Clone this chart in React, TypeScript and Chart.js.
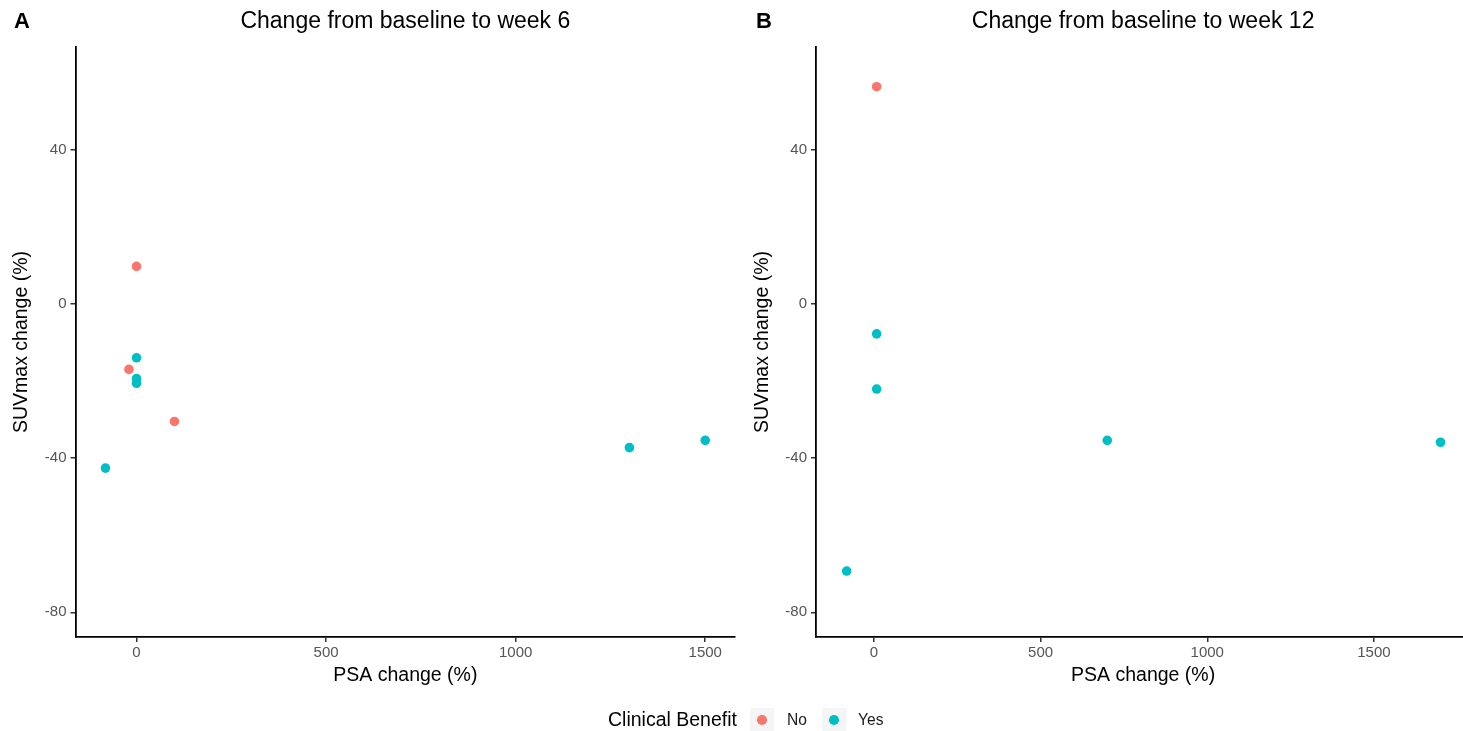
import React, { useEffect, useRef } from "react";
import { Chart, registerables } from "chart.js";

Chart.register(...registerables);

const FONT = '"Liberation Sans", Arial, Helvetica, sans-serif';

// ---------- data ----------
const groups = ["No", "Yes"];
const groupColors = ["#F8766D", "#00BFC4"];

const week6NoPSA = [0, -20, 100];
const week6NoSUV = [9.7, -17.0, -30.5];
const week6YesPSA = [0, 0, 0, -82, 1300, 1500];
const week6YesSUV = [-14.0, -19.4, -20.6, -42.6, -37.3, -35.4];

const week12NoPSA = [8];
const week12NoSUV = [56.3];
const week12YesPSA = [8, 8, 700, 1700, -82];
const week12YesSUV = [-7.8, -22.1, -35.4, -35.9, -69.3];

const xTickValues = [0, 500, 1000, 1500];
const yTickValues = [-80, -40, 0, 40];
const yRange = [-86.4, 66.6];
const week6XRange = [-161, 1579];
const week12XRange = [-174, 1789];

const panelTitles = ["Change from baseline to week 6", "Change from baseline to week 12"];
const panelTags = ["A", "B"];
const xAxisTitle = "PSA change (%)";
const yAxisTitle = "SUVmax change (%)";
const legendTitle = "Clinical Benefit";

// ---------- plugin drawing panel title and tag ----------
const panelTextPlugin = {
  id: "panelText",
  afterDraw(chart: any, _args: any, opts: any) {
    const { ctx, chartArea } = chart;
    ctx.save();
    ctx.fillStyle = "#000";
    ctx.textBaseline = "middle";
    ctx.textAlign = "center";
    ctx.font = `23px ${FONT}`;
    ctx.fillText(opts.title, (chartArea.left + chartArea.right) / 2, opts.titleY);
    ctx.font = `bold 22px ${FONT}`;
    ctx.fillText(opts.tag, opts.tagX, opts.titleY);
    ctx.restore();
  },
};

type PanelProps = {
  left: number;
  width: number;
  noPSA: number[];
  noSUV: number[];
  yesPSA: number[];
  yesSUV: number[];
  xRange: number[];
  title: string;
  tag: string;
  tagX: number;
  padLeft: number;
  padRight: number;
  yWidth: number;
};

function Panel(p: PanelProps) {
  const ref = useRef<HTMLCanvasElement>(null);
  useEffect(() => {
    if (!ref.current) return;
    const toPts = (xs: number[], ys: number[]) => xs.map((x, i) => ({ x, y: ys[i] }));
    const chart = new Chart(ref.current, {
      type: "scatter",
      data: {
        datasets: [
          {
            label: groups[0],
            data: toPts(p.noPSA, p.noSUV),
            backgroundColor: groupColors[0],
            borderColor: groupColors[0],
            borderWidth: 0,
            pointRadius: 4.8,
          },
          {
            label: groups[1],
            data: toPts(p.yesPSA, p.yesSUV),
            backgroundColor: groupColors[1],
            borderColor: groupColors[1],
            borderWidth: 0,
            pointRadius: 4.8,
          },
        ],
      },
      options: {
        responsive: false,
        animation: false,
        events: [],
        layout: { padding: { left: p.padLeft, right: p.padRight, top: 47, bottom: 44 } },
        plugins: {
          legend: { display: false },
          tooltip: { enabled: false },
          title: { display: false },
          panelText: { title: p.title, tag: p.tag, tagX: p.tagX, titleY: 22 },
        } as any,
        scales: {
          x: {
            type: "linear",
            min: p.xRange[0],
            max: p.xRange[1],
            afterBuildTicks: (s: any) => {
              s.ticks = xTickValues.map((v) => ({ value: v }));
            },
            afterFit: (s: any) => {
              s.height = 50;
            },
            ticks: {
              color: "#555555",
              font: { family: FONT, size: 15 },
              padding: 2,
              maxRotation: 0,
              autoSkip: false,
              callback: (v: any) => String(v),
            },
            grid: { drawOnChartArea: false, drawTicks: true, tickLength: 5, color: "#333", lineWidth: 1.5 },
            border: { display: true, color: "#000", width: 1.8 },
            title: {
              display: true,
              text: xAxisTitle,
              color: "#000",
              font: { family: FONT, size: 19.5 },
              padding: 0,
            },
          },
          y: {
            type: "linear",
            min: yRange[0],
            max: yRange[1],
            afterBuildTicks: (s: any) => {
              s.ticks = yTickValues.map((v) => ({ value: v }));
            },
            afterFit: (s: any) => {
              s.width = p.yWidth;
            },
            ticks: {
              color: "#555555",
              font: { family: FONT, size: 15 },
              padding: 4,
              autoSkip: false,
              callback: (v: any) => String(v),
            },
            grid: { drawOnChartArea: false, drawTicks: true, tickLength: 5, color: "#333", lineWidth: 1.5 },
            border: { display: true, color: "#000", width: 1.8 },
            title: {
              display: true,
              text: yAxisTitle,
              color: "#000",
              font: { family: FONT, size: 19.5 },
              padding: 0,
            },
          },
        },
      },
      plugins: [panelTextPlugin],
    } as any);
    return () => chart.destroy();
  }, []);
  return (
    <canvas
      ref={ref}
      width={p.width}
      height={731}
      style={{ position: "absolute", left: p.left, top: 0, width: p.width, height: 731 }}
    />
  );
}

function LegendKey({ cx, color }: { cx: number; color: string }) {
  return (
    <div
      style={{
        position: "absolute",
        left: cx - 12,
        top: 720 - 12,
        width: 24,
        height: 24,
        background: "#F5F5F5",
      }}
    >
      <div
        style={{
          position: "absolute",
          left: 12 - 4.8,
          top: 12 - 4.8,
          width: 9.6,
          height: 9.6,
          borderRadius: "50%",
          background: color,
        }}
      />
    </div>
  );
}

export default function App() {
  const textStyle = (left: number, size: number, color: string): React.CSSProperties => ({
    position: "absolute",
    left,
    top: 720,
    transform: "translateY(-50%)",
    fontFamily: FONT,
    fontSize: size,
    color,
    whiteSpace: "nowrap",
    lineHeight: 1,
  });
  return (
    <div
      style={{
        position: "fixed",
        left: 0,
        top: 0,
        width: 1463,
        height: 731,
        overflow: "hidden",
        background: "#fff",
      }}
    >
      <Panel
        left={0}
        width={740}
        noPSA={week6NoPSA}
        noSUV={week6NoSUV}
        yesPSA={week6YesPSA}
        yesSUV={week6YesSUV}
        xRange={week6XRange}
        title={panelTitles[0]}
        tag={panelTags[0]}
        tagX={22}
        padLeft={10}
        padRight={3}
        yWidth={65.5}
      />
      <Panel
        left={740}
        width={735}
        noPSA={week12NoPSA}
        noSUV={week12NoSUV}
        yesPSA={week12YesPSA}
        yesSUV={week12YesSUV}
        xRange={week12XRange}
        title={panelTitles[1]}
        tag={panelTags[1]}
        tagX={24}
        padLeft={11.3}
        padRight={0}
        yWidth={64.7}
      />
      <div style={textStyle(608, 19.5, "#000")}>{legendTitle}</div>
      <LegendKey cx={762} color={groupColors[0]} />
      <div style={textStyle(787, 15.6, "#1a1a1a")}>{groups[0]}</div>
      <LegendKey cx={834} color={groupColors[1]} />
      <div style={textStyle(858, 15.6, "#1a1a1a")}>{groups[1]}</div>
    </div>
  );
}
